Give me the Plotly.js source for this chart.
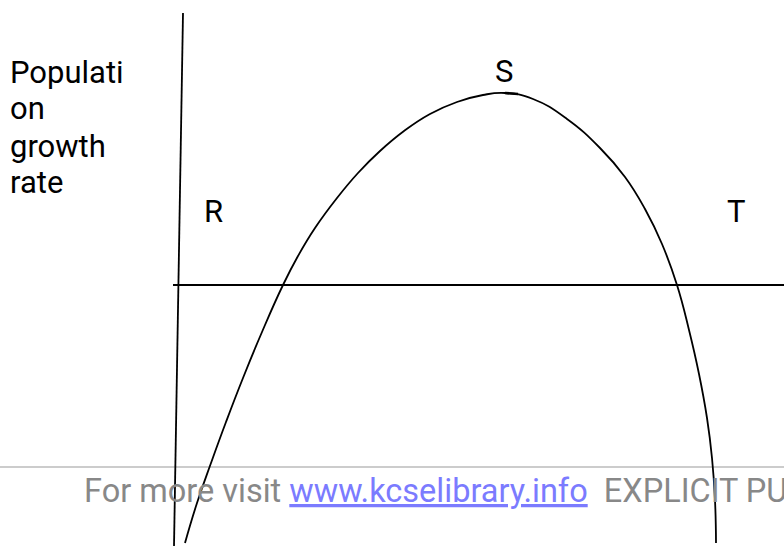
<!DOCTYPE html>
<html>
<head>
<meta charset="utf-8">
<script src="https://cdn.plot.ly/plotly-3.0.1.min.js"></script>
<style>html,body{margin:0;padding:0;background:#fff;}#chart{width:784px;height:546px;}</style>
</head>
<body>
<div id="chart"></div>
<script>
// Hand-drawn curve, points
var curveX = [185,197,211,226,243,262,283,298,315,337,358,380,404,430,457,483,505,533,567,600,625,645,662,677,689,699,707,712,715,716];
var curveY = [543,503,463,422,378,332,285,256,228,198,173,151,131,114,102,95,93,99,119,148,177,209,244,285,330,374,418,458,500,543];
// Vertical axis line
var vAxisX = [183,174];
var vAxisY = [13,546];
// Horizontal (zero) line
var hAxisX = [173,784];
var hAxisY = [285,285];
// Small mark at the peak
var peakX = [505,518];
var peakY = [93,94];
// Footer rule
var footX = [0,784];
var footY = [467,467];

var yLabelLines = ["Populati","on","growth","rate"];
var yLabelY = [72,108,146,182];
var pointLabels = ["R","S","T"];
var pointLabelX = [213,504,736];
var pointLabelY = [211,71,211];

var lineStyle = {color:'#000', width:1.8};
var traces = [
  {x:footX, y:footY, mode:'lines', line:{color:'#999', width:1.2}, hoverinfo:'skip'},
  {x:vAxisX, y:vAxisY, mode:'lines', line:lineStyle, hoverinfo:'skip'},
  {x:hAxisX, y:hAxisY, mode:'lines', line:lineStyle, hoverinfo:'skip'},
  {x:curveX, y:curveY, mode:'lines', line:{color:'#000', width:1.8, shape:'spline', smoothing:1.3}, hoverinfo:'skip'},
  {x:peakX, y:peakY, mode:'lines', line:{color:'#000', width:2.6}, hoverinfo:'skip'}
];

var F = 'Roboto, "Open Sans", sans-serif';
var ann = [];
yLabelLines.forEach(function(t,i){
  ann.push({x:8, y:yLabelY[i], xref:'x', yref:'y', text:t, showarrow:false, xanchor:'left', yanchor:'middle', font:{family:F, size:31, color:'#000'}});
});
pointLabels.forEach(function(t,i){
  ann.push({x:pointLabelX[i], y:pointLabelY[i], xref:'x', yref:'y', text:t, showarrow:false, xanchor:'center', yanchor:'middle', font:{family:F, size:31, color:'#000'}});
});
ann.push({x:82, y:491, xref:'x', yref:'y', showarrow:false, xanchor:'left', yanchor:'middle',
  text:'For more visit <span style="color:#7b7bff"><u>www.kcselibrary.info</u></span>  EXPLICIT PUBLISHERS',
  font:{family:F, size:32.5, color:'#888'}});

var layout = {
  width:784, height:546,
  margin:{l:0,r:0,t:0,b:0},
  paper_bgcolor:'#fff', plot_bgcolor:'#fff',
  showlegend:false,
  xaxis:{range:[0,784], visible:false, fixedrange:true},
  yaxis:{range:[546,0], visible:false, fixedrange:true},
  annotations:ann
};
Plotly.newPlot('chart', traces, layout, {staticPlot:true, displayModeBar:false});
</script>
</body>
</html>
